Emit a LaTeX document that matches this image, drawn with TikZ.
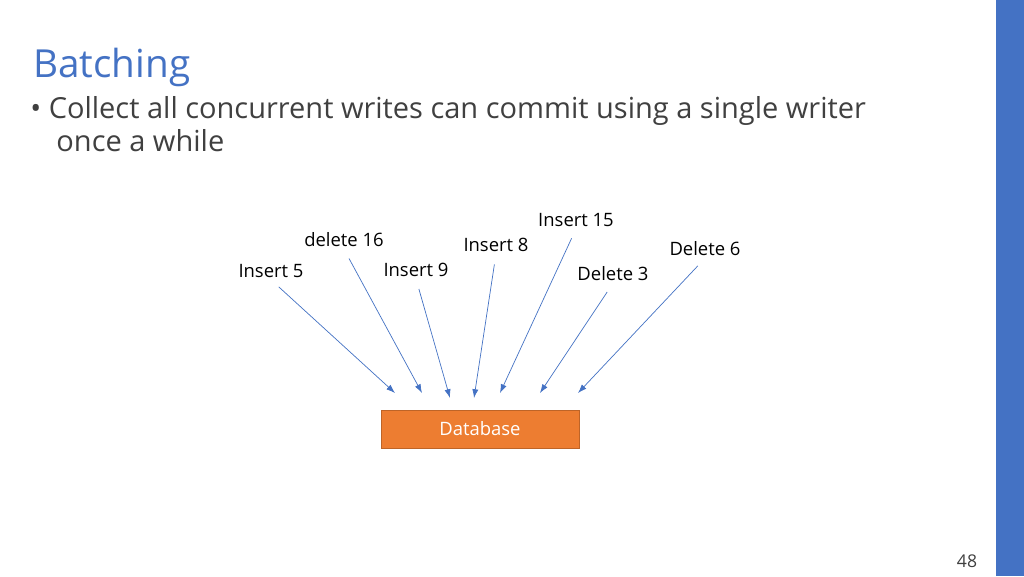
\documentclass[tikz,border=0pt]{standalone}
\usepackage{fontspec}
\setmainfont{Open Sans}
\usepackage{xcolor}
\usetikzlibrary{arrows.meta}
\definecolor{slideblue}{RGB}{68,114,196}
\definecolor{dborange}{RGB}{237,125,49}
\definecolor{bodygray}{RGB}{64,64,64}

\begin{document}
\begin{tikzpicture}[x=0.02cm, y=-0.02cm,
    writelabel/.style={font=\fontsize{10.5}{12}\selectfont, text=black, inner sep=1pt},
    writearrow/.style={slideblue, line width=0.4pt, -{Latex[length=5pt, width=3.5pt]}, shorten <=6pt}]
  \useasboundingbox[fill=white] (0,0) rectangle (1024,576);
  \fill[slideblue] (996,0) rectangle (1024,576);
  \node[anchor=west, inner sep=0pt, text=slideblue, font=\fontsize{22}{26}\selectfont] (title) at (33,67) {Batching};
  \node[anchor=north west, inner sep=0pt, text=bodygray, align=left, font=\fontsize{16.5}{19}\selectfont] (bullet) at (30,96)
    {\textbullet\ Collect all concurrent writes can commit using a single writer\\\hspace*{0.9em}once a while};
  % the writes
  \node[writelabel] (ins5) at (271,271) {Insert 5};
  \node[writelabel] (del16) at (344,240) {delete 16};
  \node[writelabel] (ins9) at (416,270) {Insert 9};
  \node[writelabel] (ins8) at (496,245) {Insert 8};
  \node[writelabel] (ins15) at (576,220) {Insert 15};
  \node[writelabel] (del3) at (613,274) {Delete 3};
  \node[writelabel] (del6) at (705,249) {Delete 6};
  % the database
  \node[draw=dborange!80!black, fill=dborange, text=white, minimum width=198*0.02cm, minimum height=38*0.02cm,
    font=\fontsize{10.5}{12}\selectfont] (db) at (480,429) {Database};
  \coordinate (t1) at (395,393);
  \coordinate (t2) at (422,393);
  \coordinate (t3) at (450,398);
  \coordinate (t4) at (474,398);
  \coordinate (t5) at (500,393);
  \coordinate (t6) at (540,393);
  \coordinate (t7) at (578,393);
  \draw[writearrow] (ins5.south) -- (t1);
  \draw[writearrow] (del16.south) -- (t2);
  \draw[writearrow] (ins9.south) -- (t3);
  \draw[writearrow] (ins8.south) -- (t4);
  \draw[writearrow] (ins15.south) -- (t5);
  \draw[writearrow] (del3.south) -- (t6);
  \draw[writearrow] (del6.south) -- (t7);
  \node[text=bodygray, font=\fontsize{10}{12}\selectfont] (pagenum) at (967,561) {48};
\end{tikzpicture}
\end{document}
